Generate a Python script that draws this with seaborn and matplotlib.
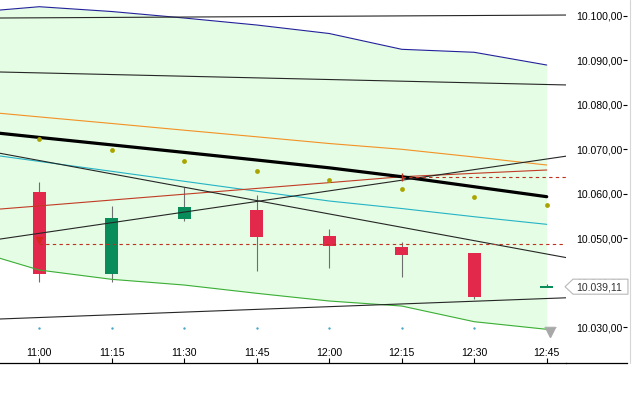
import numpy as np
import pandas as pd
import matplotlib
matplotlib.use("Agg")
import matplotlib.pyplot as plt
import matplotlib.transforms as mtransforms
from matplotlib.patches import Polygon
from matplotlib.lines import Line2D
import seaborn as sns

# ---------------- data ----------------
times = ["11:00", "11:15", "11:30", "11:45", "12:00", "12:15", "12:30", "12:45"]
opens  = [10060.38, 10042.02, 10054.31, 10056.34, 10050.56, 10048.02, 10046.74, 10039.05]
highs  = [10062.63, 10057.24, 10061.51, 10059.71, 10052.07, 10049.15, 10046.74, 10039.80]
lows   = [10040.22, 10040.22, 10053.93, 10042.70, 10043.30, 10041.28, 10036.34, 10039.05]
closes = [10042.02, 10054.54, 10057.01, 10050.34, 10048.31, 10046.22, 10036.79, 10039.11]

# indicator series include the bar before the first visible one (10:45)
ind_times = ["10:45"] + times
upper_band = [10100.65, 10102.02, 10100.94, 10099.48, 10097.91, 10096.00, 10092.45, 10091.78, 10088.92]
lower_band = [10047.71, 10042.85, 10040.76, 10039.48, 10037.62, 10035.89, 10034.76, 10031.24, 10029.53]
ma_orange  = [10078.76, 10077.26, 10075.78, 10074.27, 10072.79, 10071.28, 10069.98, 10068.25, 10066.45]
ma_black   = [10074.36, 10072.65, 10070.97, 10069.28, 10067.57, 10065.82, 10063.82, 10061.57, 10059.33]
ma_cyan    = [10069.51, 10067.26, 10065.03, 10062.79, 10060.56, 10058.36, 10056.67, 10054.83, 10053.12]
ma_red     = [10055.96, 10057.26, 10058.58, 10059.89, 10061.19, 10062.49, 10063.82, 10064.58, 10065.33]

sar_dots   = [10072.29, 10069.75, 10067.35, 10065.10, 10063.08, 10061.06, 10059.19, 10057.46]
osc_dots   = [10029.89, 10029.89, 10029.89, 10029.89, 10029.89, 10029.89, 10029.89, 10029.89]

# trend lines: value at 11:00 and at 12:45 (extended across the chart)
trend_start = [10099.53, 10087.15, 10067.46, 10051.10, 10032.18]
trend_end   = [10100.13, 10084.54, 10046.45, 10067.80, 10036.45]

# horizontal levels (dashed) and where they start
levels       = [10048.70, 10063.70]
level_starts = ["11:00", "12:15"]
signal_arrow = 10049.63   # small red arrow at 11:00

last_price = 10039.11
price_ticks = [10030, 10040, 10050, 10060, 10070, 10080, 10090, 10100]

# ---------------- style ----------------
sns.set_style("white")
plt.rcParams["font.family"] = ["Liberation Sans", "DejaVu Sans"]

W, H = 636, 393
fig = plt.figure(figsize=(W / 100, H / 100), dpi=100)
ax = fig.add_axes([0, 30 / H, 566 / W, 363 / H])
ax2 = fig.add_axes([566 / W, 30 / H, 61 / W, 363 / H], sharey=ax)

pos = np.arange(len(times))
ind_pos = np.arange(len(ind_times)) - 1

RED = "#e2294b"
GREEN = "#078c5a"

# band fill
ax.fill_between(ind_pos, lower_band, upper_band, color="#e4fde4", lw=0, zorder=1)

# candles
o = np.array(opens); c = np.array(closes); h = np.array(highs); l = np.array(lows)
up = c >= o
body_col = np.where(up, GREEN, RED)
min_body = 0.34
body_h = np.maximum(np.abs(c - o), min_body)
body_bot = np.where(np.abs(c - o) < min_body, (o + c) / 2 - min_body / 2, np.minimum(o, c))
wick_cols = ["#6e6e6e"] * (len(times) - 1) + [GREEN]
ax.vlines(pos, l, h, colors=wick_cols, lw=0.8, zorder=2)
ax.bar(pos, body_h, bottom=body_bot, width=0.179, color=body_col, linewidth=0, zorder=2.5)

# indicator lines
def line(y, color, lw):
    df = pd.DataFrame({"x": ind_pos, "y": y})
    sns.lineplot(data=df, x="x", y="y", ax=ax, color=color, linewidth=lw,
                 sort=False, legend=False, zorder=3)

line(upper_band, "#22229a", 0.8)
line(lower_band, "#3cae36", 0.8)
line(ma_orange, "#f39125", 0.8)
line(ma_cyan, "#25b3c6", 0.8)
line(ma_red, "#c23b25", 0.8)
line(ma_black, "#000000", 2.3)

# trend lines
for s, e in zip(trend_start, trend_end):
    ax.axline((0, s), (len(times) - 1, e), color="#262626", lw=0.8, zorder=3)

# dashed levels
x0, x1 = -0.542, 7.266
for lev, st in zip(levels, level_starts):
    xs = times.index(st)
    ax.axhline(lev, xmin=(xs - x0) / (x1 - x0), xmax=1, color="#c0301e",
               lw=0.8, ls=(0, (3, 3)), zorder=3.5)
ax.plot([times.index(level_starts[0])], [signal_arrow], marker="v", ms=5,
        color="#d42a1e", zorder=4, ls="none")
ax.plot([times.index(level_starts[1])], [levels[1]], marker="|", ms=6,
        mew=1.0, color="#c0301e", zorder=4, ls="none")

# dots
sns.scatterplot(x=pos, y=sar_dots, ax=ax, color="#aaa400", s=12, linewidth=0, zorder=4, legend=False)
sns.scatterplot(x=pos, y=osc_dots, ax=ax, color="#48a8c8", s=3, linewidth=0, zorder=4, legend=False)

# scroll-to-end icon
ax.plot([pos[-1] + 0.05], [10028.95], marker="v", ms=7, color="#a8a8a8", ls="none", zorder=5, clip_on=False)
ax.plot([pos[-1] + 0.05], [10030.05], marker="_", ms=8, mew=0.8, color="#b0b0b0", ls="none", zorder=5, clip_on=False)

# axes formatting
ax.set_xlim(x0, x1)
ax.set_ylim(10021.96, 10103.53)
ax.set_xticks(pos)
ax.set_xticklabels(times)
ax.set_xlabel(""); ax.set_ylabel("")
ax.tick_params(axis="x", direction="in", length=3.6, width=0.8, pad=-10.8,
               labelsize=7.6, colors="black", bottom=True)
ax.tick_params(axis="y", left=False, labelleft=False, right=False)
for sp in ["left", "top", "right"]:
    ax.spines[sp].set_visible(False)
ax.spines["bottom"].set_color("black")
ax.spines["bottom"].set_linewidth(0.9)

def fmt(v):
    return f"{v:,.2f}".replace(",", "X").replace(".", ",").replace("X", ".")

ax2.set_xlim(0, 1)
ax2.set_xticks([])
ax2.yaxis.tick_right()
ax2.set_yticks(price_ticks)
ax2.set_yticklabels([fmt(v) for v in price_ticks])
ax2.tick_params(axis="y", direction="in", length=2.9, width=0.8, pad=-3.6,
                labelsize=7.6, colors="black", right=True, left=False,
                labelright=True, labelleft=False)
for lbl in ax2.get_yticklabels():
    lbl.set_horizontalalignment("right")
for sp in ["left", "top", "right"]:
    ax2.spines[sp].set_visible(False)
ax2.spines["bottom"].set_color("black")
ax2.spines["bottom"].set_linewidth(0.9)
ax2.set_facecolor("none")
ax.set_ylim(10021.96, 10103.53)

# last price tag
trans = mtransforms.blended_transform_factory(ax2.transAxes, ax2.transData)
hh = 1.69
tag = Polygon([(-0.016, last_price), (0.115, last_price + hh), (1.016, last_price + hh),
               (1.016, last_price - hh), (0.115, last_price - hh)],
              closed=True, transform=trans, facecolor="white", edgecolor="#b8b8b8",
              lw=0.8, clip_on=False, zorder=10)
ax2.add_patch(tag)
ax2.text(0.54, last_price, fmt(last_price), transform=trans, ha="center",
         va="center_baseline", fontsize=7.6, color="#333333", zorder=11, clip_on=False)

# right border
fig.add_artist(Line2D([629.5 / W, 629.5 / W], [30 / H, 1], color="#d6d6d6", lw=0.8))

fig.savefig("out.png", dpi=100)
